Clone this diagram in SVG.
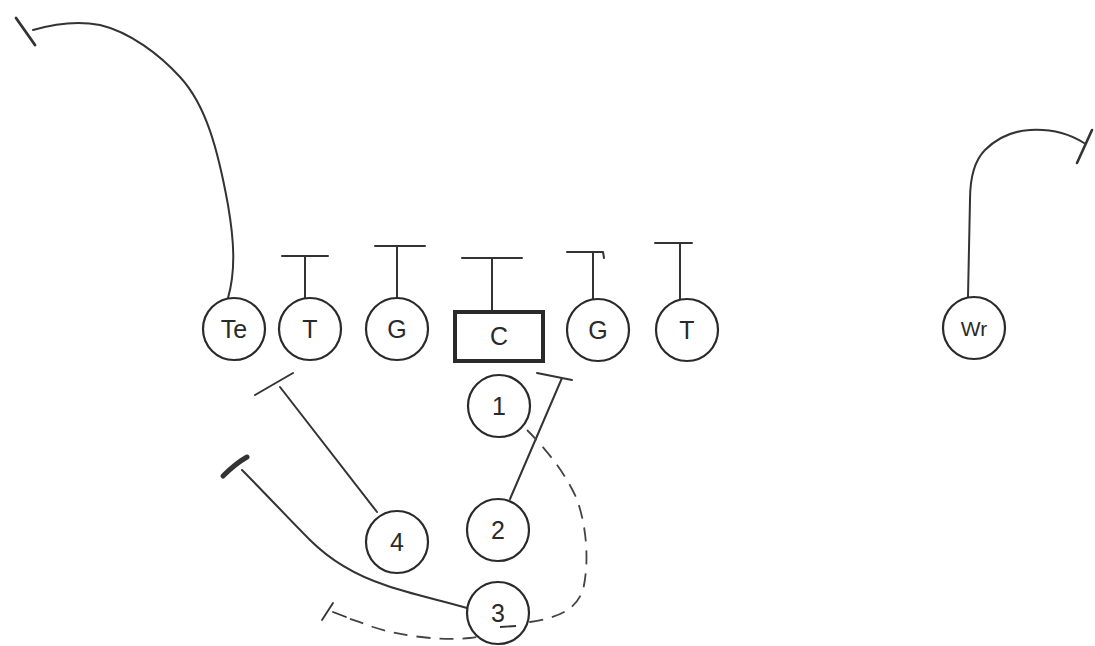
<svg xmlns="http://www.w3.org/2000/svg" width="1095" height="646" viewBox="0 0 1095 646">
<style>
.p{fill:#fff;stroke:#2a2a2a;stroke-width:2.2}
.t{font-family:"Liberation Sans",Arial,sans-serif;font-size:25px;fill:#2a2a2a;text-anchor:middle;dominant-baseline:central}
.r{fill:none;stroke:#333;stroke-width:2;stroke-linecap:round;stroke-linejoin:round}
.d{fill:none;stroke:#444;stroke-width:1.8;stroke-dasharray:14 9}
</style>
<rect width="1095" height="646" fill="#fff"/>
<g id="connectors">
<path class="r" d="M228,298 C236,270 234,240 228,205 C218,150 206,105 180,77 C160,55 130,32 100,25 C75,20 50,25 33,30"/>
<path class="r" d="M16,18 L35,45" style="stroke-width:2.8"/>
<path class="r" d="M968,297 L970,200 C970,175 975,160 985,150 C997,138 1012,131 1030,130 C1048,129 1068,133 1084,143"/>
<path class="r" d="M1092,130 L1077,163" style="stroke-width:2.6"/>
<path class="r" d="M305,298 L305,256 M282,256 L328,256"/>
<path class="r" d="M397,298 L397,246 M375,246 L425,246"/>
<path class="r" d="M492,311 L492,258 M462,258 L522,258"/>
<path class="r" d="M593,299 L593,252 M567,252 L603,252 L604,258"/>
<path class="r" d="M680,299 L680,243 M655,243 L692,243"/>
<path class="r" d="M377,512 L280,387 M255,395 L293,373"/>
<path class="r" d="M510,499 L562,378 M537,373 L572,380"/>
<path class="r" d="M467,608 C440,600 410,594 385,585 C355,575 330,560 310,540 C290,520 262,490 242,470"/>
<path class="r" d="M223,476 C232,467 240,461 247,457" style="stroke-width:5"/>
<path class="d" d="M527,430 C545,448 563,470 575,495 C586,520 590,560 583,590 C575,612 555,618 530,622 C510,628 490,636 470,638 C440,641 400,636 373,627 C360,622 350,619 345,617"/>
<path class="r" d="M322,620 L333,603 M333,612 L346,617" style="stroke-width:1.8"/>
</g>
<g id="Te"><circle class="p" cx="234" cy="329" r="31"/><text class="t" x="234" y="329">Te</text></g>
<g id="T1"><circle class="p" cx="310" cy="329" r="31"/><text class="t" x="310" y="329">T</text></g>
<g id="G1"><circle class="p" cx="397" cy="329" r="31"/><text class="t" x="397" y="329">G</text></g>
<g id="C"><rect x="455" y="312" width="88" height="49" fill="#fff" stroke="#2a2a2a" stroke-width="4"/><text class="t" x="499" y="336">C</text></g>
<g id="G2"><circle class="p" cx="598" cy="330" r="31"/><text class="t" x="598" y="330">G</text></g>
<g id="T2"><circle class="p" cx="687" cy="330" r="31"/><text class="t" x="687" y="330">T</text></g>
<g id="Wr"><circle class="p" cx="974" cy="328" r="31"/><text class="t" x="974" y="328" style="font-size:21px">Wr</text></g>
<g id="n1"><circle class="p" cx="499" cy="406" r="31"/><text class="t" x="499" y="406">1</text></g>
<g id="n2"><circle class="p" cx="498" cy="530" r="31"/><text class="t" x="498" y="530">2</text></g>
<g id="n4"><circle class="p" cx="397" cy="542" r="31"/><text class="t" x="397" y="542">4</text></g>
<g id="n3"><circle class="p" cx="498" cy="613" r="31"/><text class="t" x="498" y="613">3</text><path d="M500,627 L516,626" stroke="#333" stroke-width="1.8"/></g>
</svg>
